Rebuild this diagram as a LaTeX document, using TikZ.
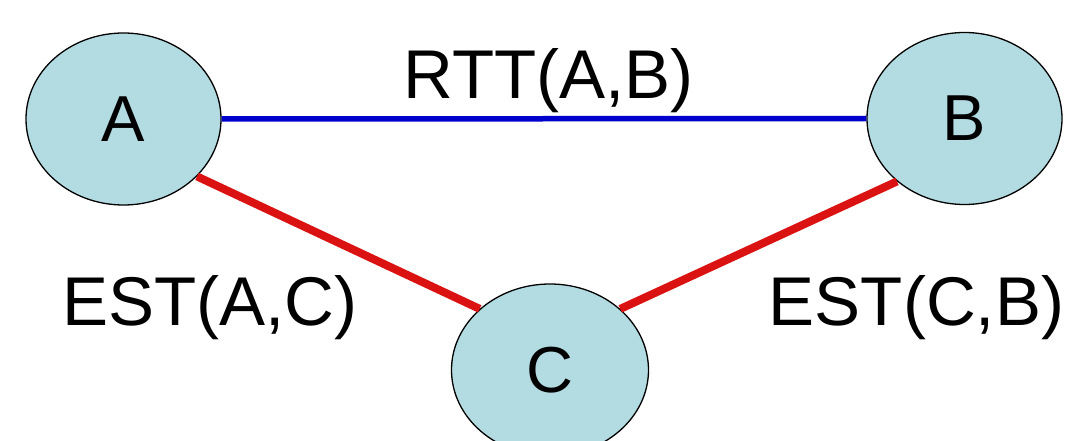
\documentclass[tikz,border=0pt]{standalone}
\usepackage{fontspec}
\setmainfont{Liberation Sans}
\usetikzlibrary{shapes.geometric}
\definecolor{nodefill}{RGB}{178,220,226}
\definecolor{linkblue}{RGB}{0,0,204}
\definecolor{linkred}{RGB}{218,18,18}
\tikzset{
  host/.style={ellipse, draw=black, line width=1.3pt, fill=nodefill,
    minimum width=195pt, minimum height=172pt, inner sep=0pt,
    font=\fontsize{65}{75}\selectfont},
  rttlink/.style={draw=linkblue, line width=5.5pt},
  estlink/.style={draw=linkred, line width=8pt},
  lbl/.style={anchor=base, inner sep=0pt, font=\fontsize{69}{80}\selectfont}
}
\begin{document}
\begin{tikzpicture}[x=1pt,y=1pt]
\useasboundingbox (0,0) rectangle (1072,440);
\node[host] (A) at (123.5,321) {A};
\node[host] (B) at (964.5,321.5) {B};
\node[host, minimum width=197pt] (C) at (550,70) {C};
\draw[rttlink] (A.east) -- (B.west);
\draw[estlink] (A.-38) -- (C.139);
\draw[estlink] (C.41) -- (B.-137.7);
\node[lbl] (rtt) at (548.5,341) {RTT(A,B)};
\node[lbl] (estac) at (210,115) {EST(A,C)};
\node[lbl] (estcb) at (916.5,115) {EST(C,B)};
\end{tikzpicture}
\end{document}
